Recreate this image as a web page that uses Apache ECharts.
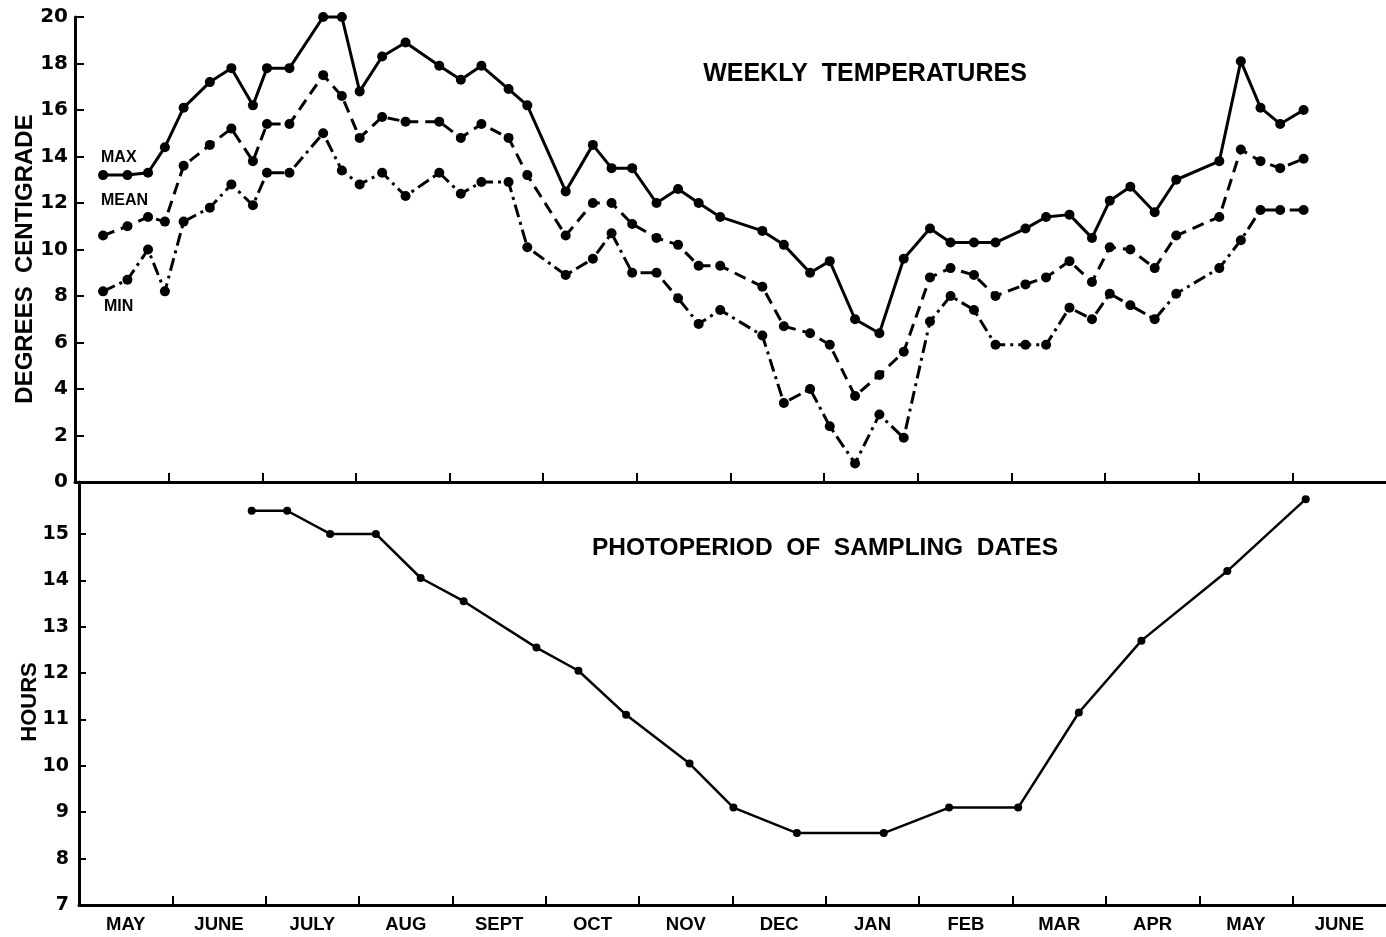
<!DOCTYPE html>
<html>
<head>
<meta charset="utf-8">
<script src="https://cdn.jsdelivr.net/npm/echarts@6/dist/echarts.min.js"></script>
<style>
  html, body { margin: 0; padding: 0; background: #fff; }
  #chart { width: 1386px; height: 937px; }
</style>
</head>
<body>
<div id="chart"></div>
<script>
// ---- Data (x positions in months counted from 1 May) ----
const monthLabels = ['MAY','JUNE','JULY','AUG','SEPT','OCT','NOV','DEC','JAN','FEB','MAR','APR','MAY','JUNE'];
const monthTicks = [1,2,3,4,5,6,7,8,9,10,11,12,13];
const monthLabelPos = [0.5,1.5,2.5,3.5,4.5,5.5,6.5,7.5,8.5,9.5,10.5,11.5,12.5,13.5];

const sampleWeeks = [0.30,0.56,0.78,0.96,1.16,1.44,1.67,1.90,2.05,2.29,
                     2.65,2.85,3.04,3.28,3.53,3.89,4.12,4.34,4.63,4.83,
                     5.24,5.53,5.73,5.95,6.21,6.44,6.66,6.89,7.34,7.57,
                     7.85,8.06,8.33,8.59,8.85,9.13,9.35,9.60,9.83,10.15,
                     10.37,10.62,10.86,11.05,11.27,11.53,11.76,12.22,12.45,12.66,
                     12.87,13.12];

const maxTemp = [13.2,13.2,13.3,14.4,16.1,17.2,17.8,16.2,17.8,17.8,
                 20.0,20.0,16.8,18.3,18.9,17.9,17.3,17.9,16.9,16.2,
                 12.5,14.5,13.5,13.5,12.0,12.6,12.0,11.4,10.8,10.2,
                 9.0,9.5,7.0,6.4,9.6,10.9,10.3,10.3,10.3,10.9,
                 11.4,11.5,10.5,12.1,12.7,11.6,13.0,13.8,18.1,16.1,
                 15.4,16.0];

const meanTemp = [10.6,11.0,11.4,11.2,13.6,14.5,15.2,13.8,15.4,15.4,
                  17.5,16.6,14.8,15.7,15.5,15.5,14.8,15.4,14.8,13.2,
                  10.6,12.0,12.0,11.1,10.5,10.2,9.3,9.3,8.4,6.7,
                  6.4,5.9,3.7,4.6,5.6,8.8,9.2,8.9,8.0,8.5,
                  8.8,9.5,8.6,10.1,10.0,9.2,10.6,11.4,14.3,13.8,
                  13.5,13.9];

const minTemp = [8.2,8.7,10.0,8.2,11.2,11.8,12.8,11.9,13.3,13.3,
                 15.0,13.4,12.8,13.3,12.3,13.3,12.4,12.9,12.9,10.1,
                 8.9,9.6,10.7,9.0,9.0,7.9,6.8,7.4,6.3,3.4,
                 4.0,2.4,0.8,2.9,1.9,6.9,8.0,7.4,5.9,5.9,
                 5.9,7.5,7.0,8.1,7.6,7.0,8.1,9.2,10.4,11.7,
                 11.7,11.7];

const photoDates = [1.85,2.23,2.69,3.18,3.66,4.12,4.90,5.35,5.86,6.54,
                    7.01,7.69,8.62,9.32,10.06,10.71,11.38,12.30,13.14];
const photoHours = [15.5,15.5,15.0,15.0,14.05,13.55,12.55,12.05,11.1,10.05,
                    9.1,8.55,8.55,9.1,9.1,11.15,12.7,14.2,15.75];

const tempTicks = [0,2,4,6,8,10,12,14,16,18,20];
const hourTicks = [7,8,9,10,11,12,13,14,15];

// ---- Chart ----
const pair = (xs, ys) => xs.map((x, i) => [x, ys[i]]);
const FONT = '"Liberation Sans", Arial, sans-serif';
const NUMFONT = '"DejaVu Sans", "Liberation Sans", sans-serif';
const black = '#000';

const chart = echarts.init(document.getElementById('chart'), null, { renderer: 'canvas' });

function xAxisCfg(gridIndex, showLabels) {
  return {
    type: 'value', gridIndex, min: 0, max: 14, interval: 1,
    splitLine: { show: false },
    axisLine: { show: true, onZero: false, lineStyle: { color: black, width: 3 } },
    axisTick: { show: true, inside: true, length: 9, customValues: monthTicks,
                lineStyle: { color: black, width: 2 } },
    axisLabel: showLabels ? {
      show: true, customValues: monthLabelPos, margin: 10,
      color: black, fontFamily: FONT, fontWeight: 'bold', fontSize: 18.5,
      formatter: v => monthLabels[Math.round(v - 0.5)]
    } : { show: false }
  };
}

const lineBase = {
  type: 'line', symbol: 'circle', clip: false, animation: false,
  itemStyle: { color: black }, emphasis: { disabled: true }
};

chart.setOption({
  backgroundColor: '#fff',
  animation: false,
  grid: [
    { left: 75, top: 17, width: 1316, height: 465 },
    { left: 79, top: 482, width: 1315, height: 423 }
  ],
  xAxis: [ xAxisCfg(0, false), xAxisCfg(1, true) ],
  yAxis: [
    {
      type: 'value', gridIndex: 0, min: 0, max: 20, interval: 2,
      splitLine: { show: false },
      axisLine: { show: true, lineStyle: { color: black, width: 3 } },
      axisTick: { show: true, inside: true, length: 9, customValues: tempTicks,
                  lineStyle: { color: black, width: 2 } },
      axisLabel: { customValues: tempTicks, margin: 7, color: black,
                   fontFamily: NUMFONT, fontWeight: 'bold', fontSize: 20 }
    },
    {
      type: 'value', gridIndex: 1, min: 7, max: 16.12,
      splitLine: { show: false },
      axisLine: { show: true, lineStyle: { color: black, width: 3 } },
      axisTick: { show: true, inside: true, length: 7, customValues: hourTicks,
                  lineStyle: { color: black, width: 2 } },
      axisLabel: { customValues: hourTicks, margin: 10, color: black,
                   fontFamily: NUMFONT, fontWeight: 'bold', fontSize: 19 }
    }
  ],
  graphic: [
    { type: 'text', x: 865, y: 74, style: { text: 'WEEKLY  TEMPERATURES', fill: black,
      font: 'bold 25px ' + FONT, textAlign: 'center', textVerticalAlign: 'middle' } },
    { type: 'text', x: 825, y: 548, style: { text: 'PHOTOPERIOD  OF  SAMPLING  DATES', fill: black,
      font: 'bold 24.5px ' + FONT, textAlign: 'center', textVerticalAlign: 'middle' } },
    { type: 'text', x: 25, y: 259, rotation: Math.PI / 2, style: { text: 'DEGREES  CENTIGRADE', fill: black,
      font: 'bold 24px ' + FONT, textAlign: 'center', textVerticalAlign: 'middle' } },
    { type: 'text', x: 30, y: 702, rotation: Math.PI / 2, style: { text: 'HOURS', fill: black,
      font: 'bold 22px ' + FONT, textAlign: 'center', textVerticalAlign: 'middle' } },
    { type: 'text', x: 101, y: 158, style: { text: 'MAX', fill: black,
      font: 'bold 16px ' + FONT, textAlign: 'left', textVerticalAlign: 'middle' } },
    { type: 'text', x: 101, y: 201, style: { text: 'MEAN', fill: black,
      font: 'bold 16px ' + FONT, textAlign: 'left', textVerticalAlign: 'middle' } },
    { type: 'text', x: 104, y: 307, style: { text: 'MIN', fill: black,
      font: 'bold 16px ' + FONT, textAlign: 'left', textVerticalAlign: 'middle' } }
  ],
  series: [
    Object.assign({}, lineBase, { name: 'MAX', xAxisIndex: 0, yAxisIndex: 0, symbolSize: 10,
      lineStyle: { color: black, width: 3, type: 'solid' },
      data: pair(sampleWeeks, maxTemp) }),
    Object.assign({}, lineBase, { name: 'MEAN', xAxisIndex: 0, yAxisIndex: 0, symbolSize: 10,
      lineStyle: { color: black, width: 3, type: [12, 7] },
      data: pair(sampleWeeks, meanTemp) }),
    Object.assign({}, lineBase, { name: 'MIN', xAxisIndex: 0, yAxisIndex: 0, symbolSize: 10,
      lineStyle: { color: black, width: 3, type: [13, 5, 3, 5] },
      data: pair(sampleWeeks, minTemp) }),
    Object.assign({}, lineBase, { name: 'PHOTOPERIOD', xAxisIndex: 1, yAxisIndex: 1, symbolSize: 8,
      lineStyle: { color: black, width: 2.5, type: 'solid' },
      data: pair(photoDates, photoHours) })
  ]
});
</script>
</body>
</html>
